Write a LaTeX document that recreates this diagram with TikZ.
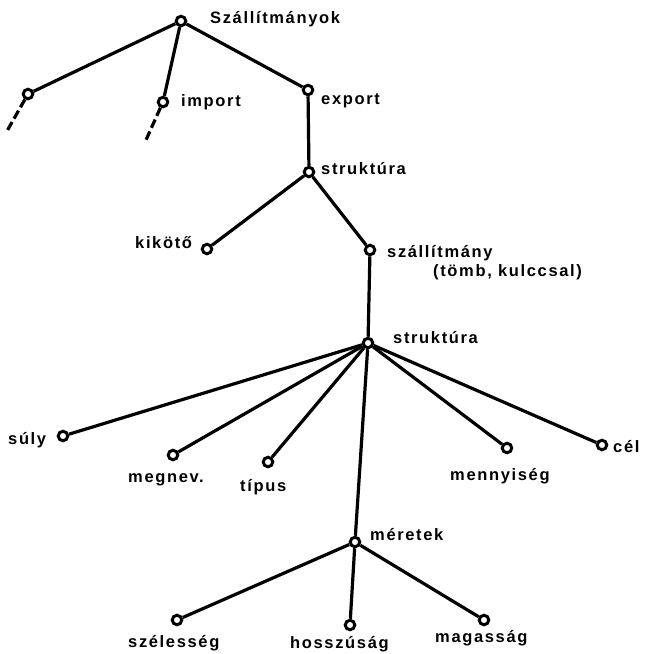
\documentclass[tikz,border=0pt]{standalone}
\usepackage{fontspec}
\setmainfont{Liberation Sans}[LetterSpace=10]
\begin{document}
\begin{tikzpicture}[x=1pt,y=-1pt,
  vertex/.style={circle,draw,line width=3pt,fill=white,inner sep=0pt,minimum size=9.5pt},
  edge/.style={line width=3.2pt},
  stub/.style={line width=3.2pt,dash pattern=on 9pt off 4pt},
  lbl/.style={font=\fontsize{16.5}{18}\selectfont\bfseries,inner sep=0pt,anchor=base west}]
\useasboundingbox (0,0) rectangle (647,654);
% tree vertices
\node[vertex] (root) at (181,21) {};
\node[vertex] (other) at (28,94) {};
\node[vertex] (imp) at (163,102) {};
\node[vertex] (exp) at (308,90) {};
\node[vertex] (str1) at (309,172) {};
\node[vertex] (port) at (207,249) {};
\node[vertex] (ship) at (370,250) {};
\node[vertex] (str2) at (368,343) {};
\node[vertex] (weight) at (63,436) {};
\node[vertex] (name) at (173,455) {};
\node[vertex] (type) at (268,462) {};
\node[vertex] (qty) at (507,448) {};
\node[vertex] (dest) at (602,445) {};
\node[vertex] (dims) at (355,542) {};
\node[vertex] (width) at (177,620) {};
\node[vertex] (length) at (350,625) {};
\node[vertex] (height) at (484,620) {};
\coordinate (otherEnd) at (7,131);
\coordinate (impEnd) at (146,140);
% branches
\draw[edge] (root) -- (other);
\draw[edge] (root) -- (imp);
\draw[edge] (root) -- (exp);
\draw[edge] (exp) -- (str1);
\draw[edge] (str1) -- (port);
\draw[edge] (str1) -- (ship);
\draw[edge] (ship) -- (str2);
\draw[edge] (str2) -- (weight);
\draw[edge] (str2) -- (name);
\draw[edge] (str2) -- (type);
\draw[edge] (str2) -- (qty);
\draw[edge] (str2) -- (dest);
\draw[edge] (str2) -- (dims);
\draw[edge] (dims) -- (width);
\draw[edge] (dims) -- (length);
\draw[edge] (dims) -- (height);
\draw[stub] (other) -- (otherEnd);
\draw[stub] (imp) -- (impEnd);
% labels
\node[lbl] (tRoot) at (210,23) {Szállítmányok};
\node[lbl] (tImp) at (181,106) {import};
\node[lbl] (tExp) at (321,104) {export};
\node[lbl] (tStr1) at (321,174) {struktúra};
\node[lbl] (tPort) at (135,248) {kikötő};
\node[lbl] (tShip) at (387,257) {szállítmány};
\node[lbl] (tShip2) at (433,276) {(tömb, kulccsal)};
\node[lbl] (tStr2) at (393,343) {struktúra};
\node[lbl] (tWeight) at (8,444) {súly};
\node[lbl] (tName) at (128,482) {megnev.};
\node[lbl] (tType) at (240,491) {típus};
\node[lbl] (tQty) at (450,480) {mennyiség};
\node[lbl] (tDest) at (613,452) {cél};
\node[lbl] (tDims) at (370,540) {méretek};
\node[lbl] (tWidth) at (128,647) {szélesség};
\node[lbl] (tLength) at (290,648) {hosszúság};
\node[lbl] (tHeight) at (435,642) {magasság};
\end{tikzpicture}
\end{document}
